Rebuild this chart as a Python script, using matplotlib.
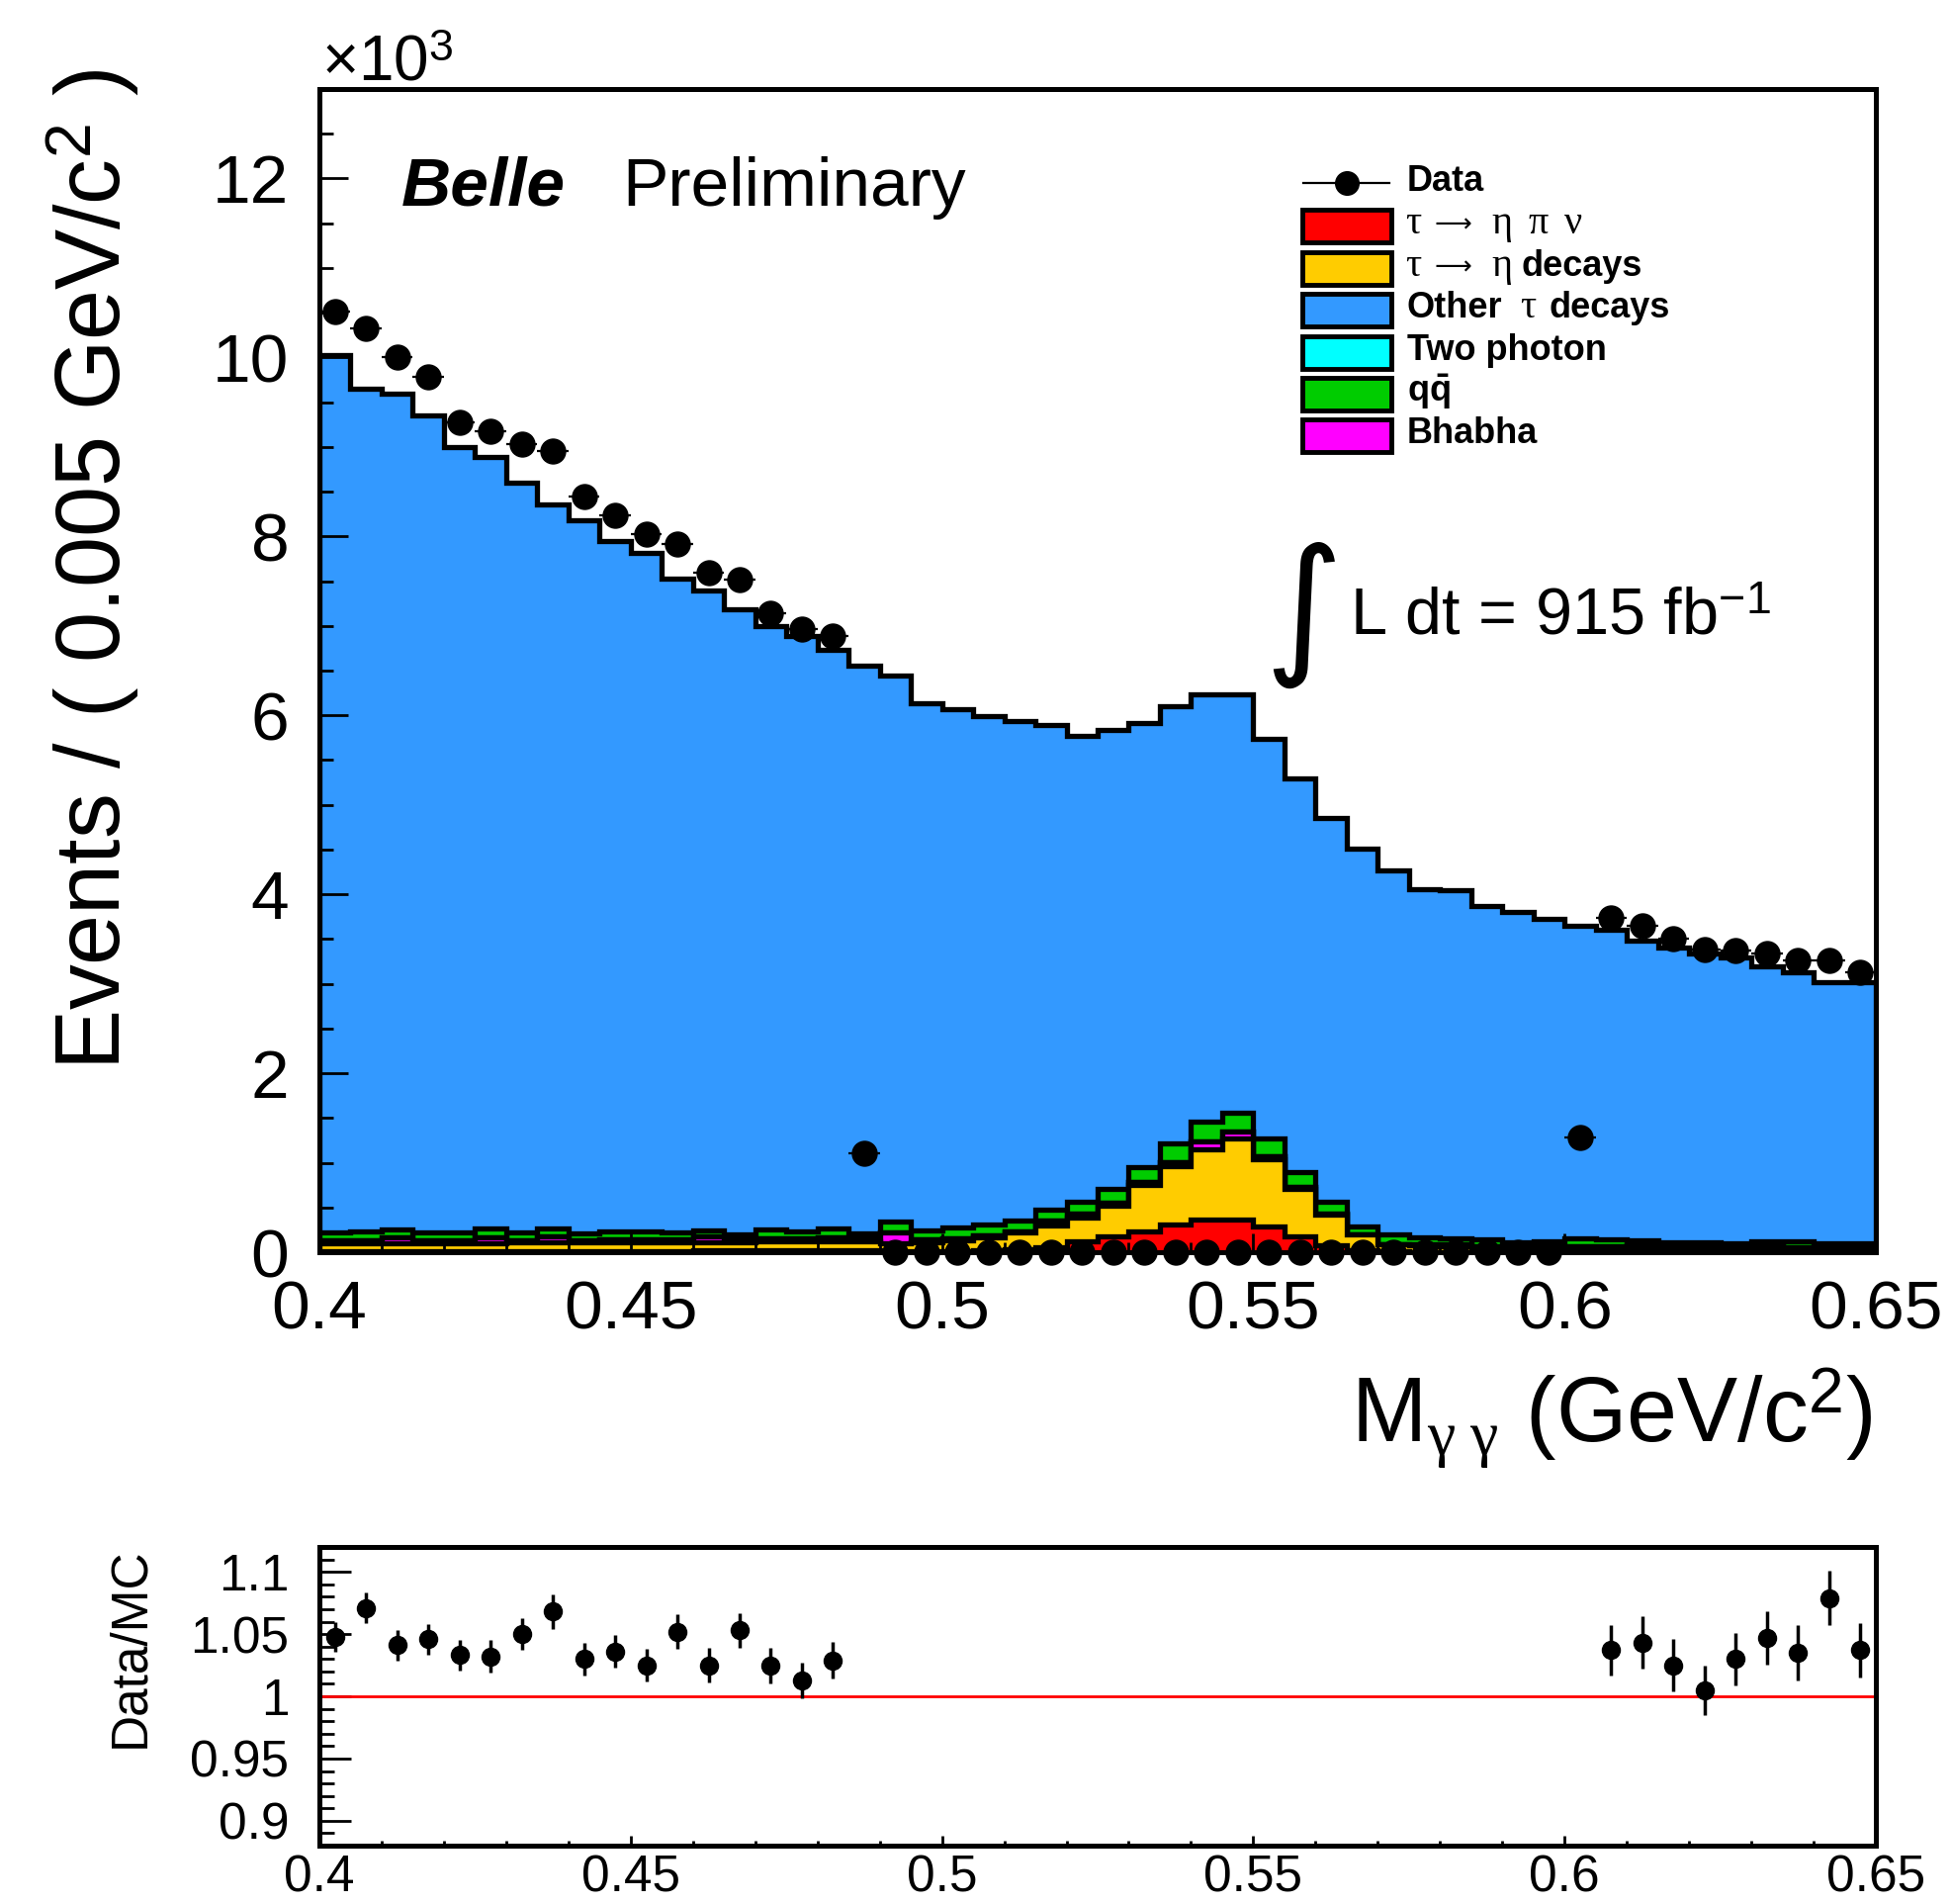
import numpy as np
import matplotlib.pyplot as plt
from matplotlib.ticker import MultipleLocator, FormatStrFormatter
from matplotlib.patches import Rectangle
from matplotlib.lines import Line2D

plt.rcParams['font.family'] = ['Liberation Sans', 'DejaVu Sans']
plt.rcParams['mathtext.fontset'] = 'custom'
plt.rcParams['mathtext.rm'] = 'Liberation Serif'
plt.rcParams['mathtext.it'] = 'Liberation Serif:italic'
plt.rcParams['mathtext.bf'] = 'Liberation Sans:bold'
plt.rcParams['mathtext.sf'] = 'Liberation Sans'

# M_gg histogram: 50 bins of 0.005 GeV from 0.40 to 0.65, counts in units of 10^3
edges = np.linspace(0.40, 0.65, 51)
centers = 0.5 * (edges[:-1] + edges[1:])

# data (signal region blinded -> 0)
data = [10.51, 10.33, 10.00, 9.78, 9.27, 9.17, 9.03, 8.95, 8.45, 8.24,
        8.02, 7.91, 7.59, 7.52, 7.14, 6.96, 6.89, 1.11,
        0, 0, 0, 0, 0, 0, 0, 0, 0, 0, 0, 0, 0, 0, 0, 0, 0, 0, 0, 0, 0, 0,
        1.28, 3.74, 3.65, 3.50, 3.38, 3.37, 3.34, 3.26, 3.26, 3.13]

# total MC (outline of the stack)
mc_total = [10.03, 9.65, 9.60, 9.35, 9.00, 8.89, 8.60, 8.36, 8.18, 7.95,
            7.81, 7.53, 7.39, 7.18, 7.00, 6.89, 6.73, 6.56, 6.45, 6.13,
            6.07, 5.99, 5.94, 5.89, 5.77, 5.84, 5.91, 6.10, 6.24, 6.24,
            5.74, 5.30, 4.85, 4.51, 4.27, 4.06, 4.05, 3.87, 3.80, 3.72,
            3.65, 3.60, 3.48, 3.41, 3.34, 3.29, 3.20, 3.13, 3.02, 3.02]

# small components (bottom of the stack)
eta_pi_nu = [0.010, 0.010, 0.011, 0.011, 0.012, 0.012, 0.013, 0.013, 0.014, 0.014,
             0.015, 0.016, 0.017, 0.018, 0.019, 0.020, 0.021, 0.022,
             0.01, 0.01, 0.01, 0.02, 0.03, 0.05, 0.12, 0.18, 0.23, 0.31,
             0.36, 0.36, 0.29, 0.18, 0.08, 0.02, 0.01,
             0.005, 0.005, 0.005, 0.005, 0.005, 0.005, 0.005, 0.005, 0.005, 0.005,
             0.005, 0.005, 0.005, 0.005, 0.005]
eta_other = [0.090, 0.091, 0.091, 0.092, 0.092, 0.093, 0.093, 0.094, 0.094, 0.095,
             0.095, 0.096, 0.097, 0.098, 0.099, 0.100, 0.101, 0.103,
             0.09, 0.10, 0.12, 0.15, 0.19, 0.25, 0.27, 0.34, 0.52, 0.65,
             0.79, 0.91, 0.75, 0.53, 0.34, 0.18, 0.08,
             0.07, 0.06, 0.055, 0.045, 0.045, 0.05, 0.048, 0.041, 0.04, 0.039,
             0.038, 0.037, 0.042, 0.036, 0.035]
bhabha = [0.03, 0.03, 0.06, 0.03, 0.03, 0.06, 0.03, 0.07, 0.03, 0.03,
          0.03, 0.03, 0.06, 0.03, 0.04, 0.03, 0.04, 0.03,
          0.12, 0.03, 0.03, 0.02, 0.01, 0.05, 0.04, 0.03, 0.03, 0.05,
          0.09, 0.08, 0.03, 0.02, 0.01, 0.0, 0.0,
          0.01, 0.02, 0.01, 0.01, 0.02, 0.01, 0.01, 0.03, 0.01, 0.01,
          0.01, 0.02, 0.01, 0.01, 0.01]
two_photon = [0.0] * 50
qqbar = [0.090, 0.099, 0.088, 0.087, 0.086, 0.095, 0.084, 0.083, 0.072, 0.091,
         0.090, 0.078, 0.066, 0.054, 0.092, 0.080, 0.098, 0.055,
         0.12, 0.10, 0.12, 0.12, 0.12, 0.13, 0.13, 0.16, 0.17, 0.21,
         0.22, 0.21, 0.20, 0.16, 0.13, 0.09, 0.11,
         0.085, 0.065, 0.07, 0.05, 0.05, 0.085, 0.077, 0.054, 0.055, 0.056,
         0.047, 0.058, 0.063, 0.049, 0.05]

# Data/MC ratio in the sidebands
ratio_bins = list(range(0, 17)) + list(range(41, 50))
ratio = [1.048, 1.071, 1.041, 1.046, 1.033, 1.032, 1.050, 1.068, 1.030, 1.036,
         1.025, 1.052, 1.025, 1.053, 1.025, 1.013, 1.029,
         1.037, 1.043, 1.025, 1.005, 1.030, 1.047, 1.035, 1.079, 1.037]
ratio_err = [0.012, 0.0125, 0.0123, 0.0124, 0.0125, 0.013, 0.013, 0.0136, 0.0133, 0.0133,
             0.0133, 0.014, 0.014, 0.0141, 0.0143, 0.0144, 0.0148,
             0.020, 0.021, 0.021, 0.020, 0.021, 0.0216, 0.022, 0.022, 0.022]

other_tau = np.array(mc_total) - (np.array(eta_pi_nu) + np.array(eta_other) + np.array(bhabha)
                                  + np.array(two_photon) + np.array(qqbar))

W, H = 1973, 1925
def fx(x):
    return x / W
def fy(y):
    return 1 - y / H

fig = plt.figure(figsize=(W / 100, H / 100), dpi=100)
ax = fig.add_axes([fx(323), fy(1266), (1897 - 323) / W, (1266 - 90) / H])
ax2 = fig.add_axes([fx(323), fy(1866), (1897 - 323) / W, (1866 - 1564) / H])

# stack: red, yellow, magenta, cyan, green, blue (bottom -> top)
comps = [eta_pi_nu, eta_other, bhabha, two_photon, qqbar, other_tau]
colors = ['#ff0000', '#ffcc00', '#ff00ff', '#00ffff', '#00cc00', '#3399ff']
cum = np.cumsum(np.array(comps, dtype=float), axis=0)
for k in reversed(range(len(comps))):
    ax.stairs(cum[k], edges, baseline=0, fill=True, facecolor=colors[k],
              edgecolor='black', linewidth=3.8)

d = np.array(data)
eb = ax.errorbar(centers, d, xerr=0.0025, yerr=np.sqrt(d * 1000) / 1000, fmt='o',
                 color='black', ms=18, elinewidth=1.6, capsize=0, zorder=5)
for a in eb.get_children():
    a.set_clip_on(False)

ax.set_xlim(0.40, 0.65)
ax.set_ylim(0, 13)
ax.xaxis.set_major_locator(MultipleLocator(0.05))
ax.xaxis.set_minor_locator(MultipleLocator(0.01))
ax.yaxis.set_major_locator(MultipleLocator(2))
ax.yaxis.set_minor_locator(MultipleLocator(0.5))
ax.xaxis.set_major_formatter(FormatStrFormatter('%g'))
ax.tick_params(which='both', direction='in', top=False, right=False, width=2, labelsize=50)
ax.tick_params(axis='y', which='major', length=21, pad=22)
ax.tick_params(axis='y', which='minor', length=10)
ax.tick_params(axis='x', which='major', length=14, pad=20)
ax.tick_params(axis='x', which='minor', length=7)
for s in ax.spines.values():
    s.set_linewidth(3.6)

# ratio panel
ax2.axhline(1.0, color='red', lw=2)
ax2.errorbar(centers[ratio_bins], ratio, yerr=ratio_err, fmt='o', color='black',
             ms=13, elinewidth=2.5, capsize=0)
ax2.set_xlim(0.40, 0.65)
ax2.set_ylim(0.88, 1.12)
ax2.xaxis.set_major_locator(MultipleLocator(0.05))
ax2.xaxis.set_minor_locator(MultipleLocator(0.01))
ax2.yaxis.set_major_locator(MultipleLocator(0.05))
ax2.yaxis.set_minor_locator(MultipleLocator(0.01))
ax2.xaxis.set_major_formatter(FormatStrFormatter('%g'))
ax2.yaxis.set_major_formatter(FormatStrFormatter('%g'))
ax2.tick_params(which='both', direction='in', top=False, right=False, width=2, labelsize=37)
ax2.tick_params(axis='y', which='major', length=23, pad=22)
ax2.tick_params(axis='y', which='minor', length=11)
ax2.tick_params(axis='x', which='major', length=7, pad=6)
ax2.tick_params(axis='x', which='minor', length=3.5)
for s in ax2.spines.values():
    s.set_linewidth(3.6)

# texts
fig.text(fx(94), fy(69), 'Events / ( 0.005 GeV/c$^{\\mathsf{2}}$ )', rotation=90,
         ha='center', va='top', fontsize=66)
fig.text(fx(1893), fy(1459), 'M$_{\\mathrm{\\gamma\\ \\gamma}}$ (GeV/c$^{\\mathsf{2}}$)',
         ha='right', va='baseline', fontsize=66)
fig.text(fx(325), fy(82), '×10$^{\\mathsf{3}}$', ha='left', va='baseline', fontsize=46)
fig.text(fx(132), fy(1564), 'Data/MC', rotation=90, ha='center', va='top', fontsize=37)
fig.text(fx(406), fy(208), 'Belle', fontweight='bold', style='italic', fontsize=50,
         ha='left', va='baseline')
fig.text(fx(629), fy(208), 'Preliminary', fontsize=50, ha='left', va='baseline')
fig.text(fx(1318), fy(622), '∫', family='DejaVu Sans', fontsize=110,
         ha='center', va='center')
fig.text(fx(1365), fy(642), 'L dt = 915 fb$^{\\mathsf{-1}}$', fontsize=48,
         ha='left', va='baseline')

# legend (drawn by hand to follow the ROOT layout)
fig.add_artist(Line2D([fx(1318), fx(1405)], [fy(185), fy(185)], transform=fig.transFigure,
                      color='black', lw=1.6))
fig.add_artist(Line2D([fx(1362)], [fy(185)], transform=fig.transFigure, marker='o',
                      ms=17, color='black'))
fig.text(fx(1423), fy(193), 'Data', fontweight='bold', fontsize=26, ha='left', va='baseline')

row_y = [228, 271, 313, 356, 398, 440]
leg_colors = ['#ff0000', '#ffcc00', '#3399ff', '#00ffff', '#00cc00', '#ff00ff']
serif = ['Liberation Serif', 'DejaVu Serif']
leg_pieces = [
    [('τ', 1421, 's'), ('⟶', 1451, 'a'), ('η', 1508, 's'), ('π', 1545, 's'), ('ν', 1582, 's')],
    [('τ', 1421, 's'), ('⟶', 1451, 'a'), ('η', 1508, 's'), ('decays', 1539, 'b')],
    [('Other', 1423, 'b'), ('τ', 1537, 's'), ('decays', 1566, 'b')],
    [('Two photon', 1423, 'b')],
    [('$\\mathbf{q\\bar{q}}$', 1423, 'b')],
    [('Bhabha', 1423, 'b')],
]
for yc, c, pieces in zip(row_y, leg_colors, leg_pieces):
    fig.add_artist(Rectangle((fx(1317), fy(yc + 16.5)), 90 / W, 33 / H, transform=fig.transFigure,
                             facecolor=c, edgecolor='black', lw=3.5))
    for txt, x, st in pieces:
        if st == 's':
            fig.text(fx(x), fy(yc + 8), txt, family=serif, fontsize=29, ha='left', va='baseline')
        elif st == 'a':
            fig.text(fx(x), fy(yc + 7), txt, family='DejaVu Sans', fontsize=19,
                     ha='left', va='baseline')
        else:
            fig.text(fx(x), fy(yc + 8), txt, fontweight='bold', fontsize=26, ha='left', va='baseline')

plt.savefig('out.png', dpi=100)
